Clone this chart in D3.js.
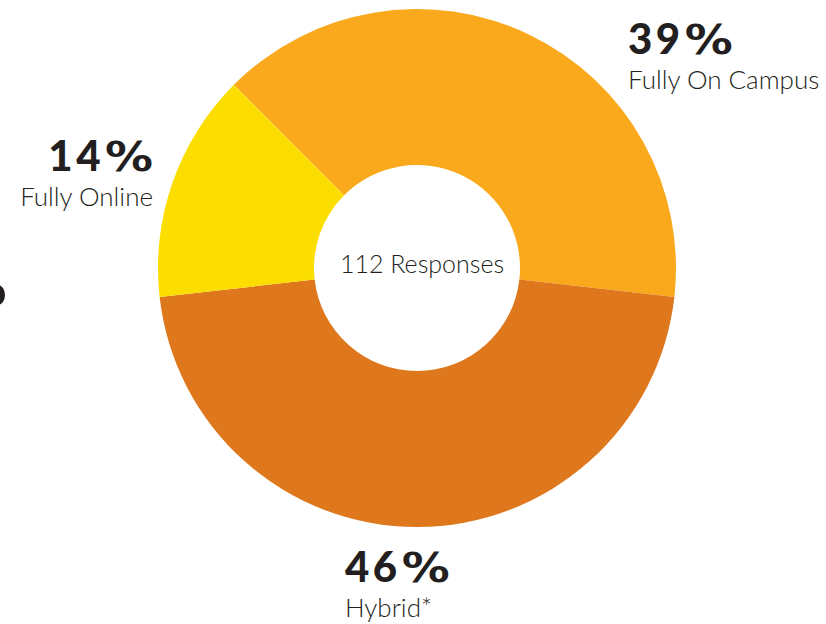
<!DOCTYPE html>
<html>
<head>
<meta charset="utf-8">
<script src="https://cdn.jsdelivr.net/npm/d3@7"></script>
<style>
  html, body { margin: 0; padding: 0; background: #fff; }
  svg { display: block; }
</style>
</head>
<body>
<svg id="chart" width="826" height="624"></svg>
<script>
// Survey responses by course format
const categories = ["Fully On Campus", "Hybrid*", "Fully Online"];
const counts = [44, 52, 16];
const percentValues = ["39", "46", "14"];
const colors = ["#F9A91B", "#DF771C", "#FBDD00"];
const centerLabel = "112 Responses";

const svg = d3.select("#chart");
const cx = 417, cy = 268;
const outerR = 259, innerR = 103;
const ink = "#231f20";

const pie = d3.pie()
  .sort(null)
  .value(d => d)
  .startAngle(-Math.PI / 4)
  .endAngle(2 * Math.PI - Math.PI / 4);

const arc = d3.arc().innerRadius(innerR).outerRadius(outerR);

const g = svg.append("g").attr("transform", `translate(${cx},${cy})`);

g.selectAll("path.slice")
  .data(pie(counts))
  .join("path")
  .attr("class", "slice")
  .attr("d", arc)
  .attr("fill", (d, i) => colors[i]);

g.append("text")
  .attr("x", 5)
  .attr("y", 5)
  .attr("text-anchor", "middle")
  .attr("font-family", "Lato, 'Open Sans', sans-serif")
  .attr("font-weight", 300)
  .attr("font-size", 25)
  .attr("fill", ink)
  .text(centerLabel);

// Label placements for each slice
const labelPos = [
  { x: 628, y: 54, anchor: "start" },
  { x: 345, y: 582, anchor: "start" },
  { x: 153, y: 171, anchor: "end" }
];
const pctSignWidth = 48;
const pctGap = 1;

const labels = svg.selectAll("g.label")
  .data(categories)
  .join("g")
  .attr("class", "label")
  .attr("transform", (d, i) => `translate(${labelPos[i].x},${labelPos[i].y})`);

labels.each(function (d, i) {
  const grp = d3.select(this);
  const num = grp.append("text")
    .attr("font-family", "Lato, 'Open Sans', sans-serif")
    .attr("font-weight", 900)
    .attr("font-size", 42)
    .attr("letter-spacing", 3.5)
    .attr("fill", ink)
    .text(percentValues[i]);
  const numW = num.node().getComputedTextLength();
  const total = numW + pctGap + pctSignWidth;
  const x0 = labelPos[i].anchor === "end" ? -total : 0;
  num.attr("x", x0);
  grp.append("text")
    .attr("x", x0 + numW + pctGap)
    .attr("font-family", "'DejaVu Sans', sans-serif")
    .attr("font-weight", 700)
    .attr("font-size", 40)
    .attr("fill", ink)
    .attr("textLength", pctSignWidth)
    .attr("lengthAdjust", "spacingAndGlyphs")
    .text("%");
  grp.append("text")
    .attr("y", 35)
    .attr("text-anchor", labelPos[i].anchor)
    .attr("font-family", "Lato, 'Open Sans', sans-serif")
    .attr("font-weight", 300)
    .attr("font-size", 26)
    .attr("fill", ink)
    .text(d);
});

// Edge of a neighbouring glyph clipped at the left border
svg.append("ellipse")
  .attr("cx", -2)
  .attr("cy", 295)
  .attr("rx", 7)
  .attr("ry", 10)
  .attr("fill", ink);
</script>
</body>
</html>
